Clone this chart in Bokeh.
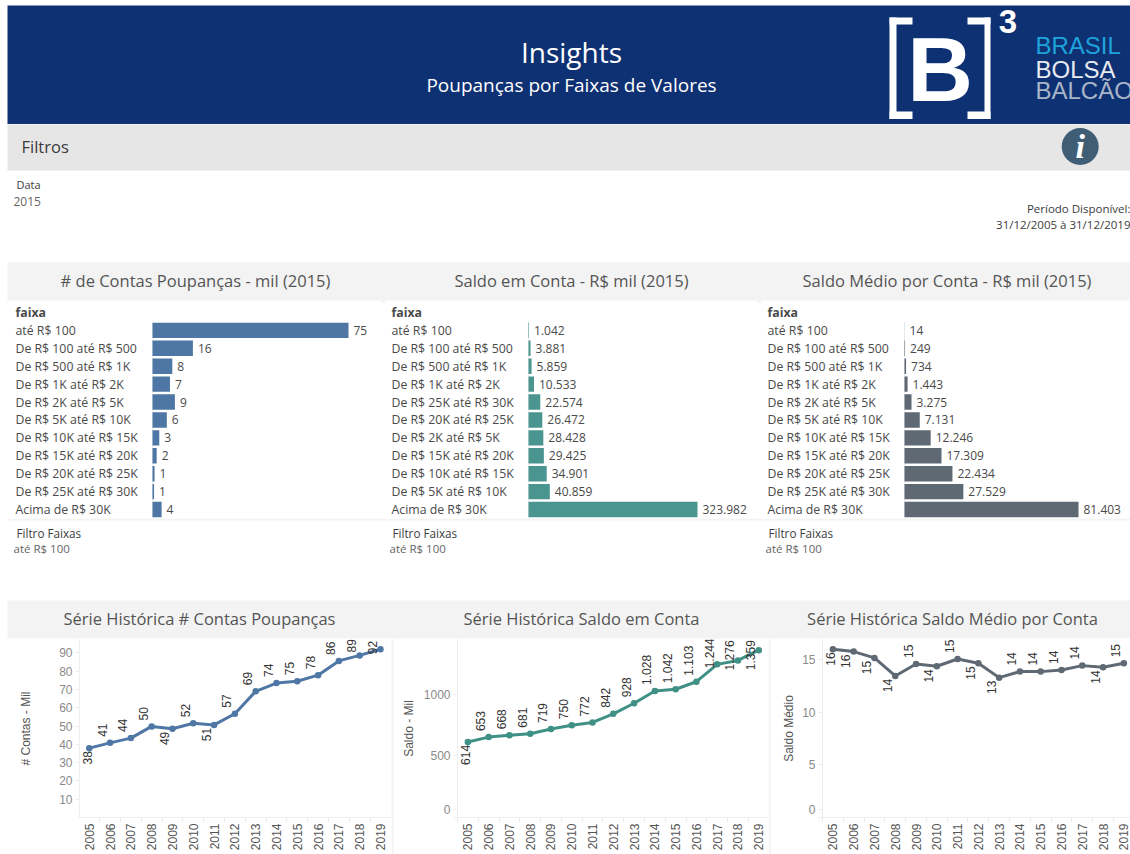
from math import pi
from bokeh.embed import file_html
from bokeh.resources import INLINE
from bokeh.plotting import figure
from bokeh.layouts import column, row
from bokeh.core.properties import value
from bokeh.models import (ColumnDataSource, FactorRange, Range1d, LabelSet, FixedTicker)

# ---------- data ----------
FAIXAS_ORDER_A = ["até R$ 100", "De R$ 100 até R$ 500", "De R$ 500 até R$ 1K", "De R$ 1K até R$ 2K",
                  "De R$ 2K até R$ 5K", "De R$ 5K até R$ 10K", "De R$ 10K até R$ 15K", "De R$ 15K até R$ 20K",
                  "De R$ 20K até R$ 25K", "De R$ 25K até R$ 30K", "Acima de R$ 30K"]
FAIXAS_ORDER_B = ["até R$ 100", "De R$ 100 até R$ 500", "De R$ 500 até R$ 1K", "De R$ 1K até R$ 2K",
                  "De R$ 25K até R$ 30K", "De R$ 20K até R$ 25K", "De R$ 2K até R$ 5K", "De R$ 15K até R$ 20K",
                  "De R$ 10K até R$ 15K", "De R$ 5K até R$ 10K", "Acima de R$ 30K"]
contas_faixa = [75.2, 15.5, 7.6, 6.7, 8.6, 5.5, 2.6, 1.6, 0.8, 0.6, 3.5]
contas_faixa_txt = ["75", "16", "8", "7", "9", "6", "3", "2", "1", "1", "4"]
saldo_faixa = [1.042, 3.881, 5.859, 10.533, 22.574, 26.472, 28.428, 29.425, 34.901, 40.859, 323.982]
saldo_faixa_txt = ["1.042", "3.881", "5.859", "10.533", "22.574", "26.472", "28.428", "29.425", "34.901", "40.859", "323.982"]
medio_faixa = [0.014, 0.249, 0.734, 1.443, 3.275, 7.131, 12.246, 17.309, 22.434, 27.529, 81.403]
medio_faixa_txt = ["14", "249", "734", "1.443", "3.275", "7.131", "12.246", "17.309", "22.434", "27.529", "81.403"]

ANOS = list(range(2005, 2020))
contas_hist = [37.9, 40.8, 43.4, 49.8, 48.5, 51.5, 50.6, 56.7, 69.0, 73.5, 74.5, 77.8, 85.6, 88.6, 92.0]
contas_hist_txt = ["38", "41", "44", "50", "49", "52", "51", "57", "69", "74", "75", "78", "86", "89", "92"]
saldo_hist = [614, 653, 668, 681, 719, 750, 772, 842, 928, 1028, 1042, 1103, 1244, 1276, 1359]
saldo_hist_txt = ["614", "653", "668", "681", "719", "750", "772", "842", "928", "1.028", "1.042", "1.103", "1.244", "1.276", "1.359"]
medio_hist = [15.97, 15.75, 15.15, 13.44, 14.58, 14.36, 15.05, 14.64, 13.28, 13.85, 13.85, 14.0, 14.42, 14.26, 14.64]
medio_hist_txt = ["16", "16", "15", "14", "15", "14", "15", "15", "13", "14", "14", "14", "14", "14", "15"]

# ---------- styles ----------
BLUE, TEAL, SLATE = "#4e77a5", "#4a958f", "#5e6973"
LINE_TEAL = "#3f9085"
NAVY = "#0e3173"
BOOK = "Open Sans"
ARIAL = "Liberation Sans"
TXT = "#4a4a4a"


def chrome(y0, y1):
    p = figure(width=1130, height=y1 - y0, x_range=Range1d(0, 1130), y_range=Range1d(y1, y0),
               output_backend="svg", toolbar_location=None, min_border=0, outline_line_color=None)
    p.axis.visible = False
    p.grid.visible = False
    return p


def strip(width, height, color):
    p = figure(width=width, height=height, x_range=Range1d(0, 1), y_range=Range1d(0, 1),
               output_backend="svg", toolbar_location=None, min_border=0, outline_line_color=None,
               background_fill_color=color, border_fill_color=color)
    p.axis.visible = False
    p.grid.visible = False
    return p


def txt(p, x, y, s, size, color=TXT, font=BOOK, align="left", style="normal"):
    p.text(x=[x], y=[y], text=[s], text_font=value(font), text_font_size=size, text_color=color,
           text_align=align, text_baseline="middle", text_font_style=style)


# ---------- top chrome ----------
top = chrome(0, 303)
top.quad(left=[7], right=[1130], top=[5], bottom=[123.5], fill_color=NAVY, line_color=None)
top.quad(left=[7], right=[1130], top=[124], bottom=[170], fill_color="#e6e6e6", line_color=None)
top.quad(left=[7], right=[1130], top=[262], bottom=[300], fill_color="#f3f3f3", line_color=None)
top.quad(left=[381, 757], right=[385, 761], top=[300, 300], bottom=[303, 303], fill_color="#f3f3f3", line_color=None)
txt(top, 571, 51, "Insights", "28px", "#ffffff", align="center")
txt(top, 571, 84, "Poupanças por Faixas de Valores", "19px", "#ffffff", align="center")
# logo
top.quad(left=[889, 889, 889, 984, 967, 967],
         right=[896, 912, 912, 990, 990, 990],
         top=[17, 17, 111, 17, 17, 111],
         bottom=[118.5, 24, 118.5, 118.5, 24, 118.5], fill_color="#ffffff", line_color=None)
txt(top, 939.5, 68.5, "B", "91px", "#ffffff", ARIAL, "center", "bold")
txt(top, 1007.5, 21, "3", "33px", "#ffffff", ARIAL, "center", "bold")
txt(top, 1035, 45, "BRASIL", "24px", "#1ea3dc", ARIAL)
txt(top, 1035, 68.5, "BOLSA", "24px", "#e8ebf0", ARIAL)
txt(top, 1035, 90, "BALCÃO", "24px", "#a9b5c8", ARIAL)
top.scatter(x=[1079.7], y=[146], size=37, marker="circle", fill_color="#3f5d75", line_color=None)
txt(top, 1079.7, 146, "i", "34px", "#ffffff", "Liberation Serif", "center", "bold italic")
txt(top, 21, 146, "Filtros", "16.5px", "#3c3c3c")
txt(top, 16, 184, "Data", "11px", "#3c3c3c")
txt(top, 13, 201, "2015", "12px", "#666666")
txt(top, 1130, 208, "Período Disponível:", "11.5px", "#3c3c3c", align="right")
txt(top, 1130, 224, "31/12/2005 à 31/12/2019", "11.5px", "#3c3c3c", align="right")
txt(top, 195, 280, "# de Contas Poupanças - mil (2015)", "16.5px", "#555555", align="center")
txt(top, 571, 280, "Saldo em Conta - R$ mil (2015)", "16.5px", "#555555", align="center")
txt(top, 946.5, 280, "Saldo Médio por Conta - R$ mil (2015)", "16.5px", "#555555", align="center")


# ---------- bar panels ----------
def bars(width, cats, vals, labels, color, xstart, xend, lab_x):
    factors = list(reversed(cats)) + ["faixa"]
    p = figure(width=width, height=215, x_range=Range1d(xstart, xend), y_range=FactorRange(factors=factors, range_padding=0),
               output_backend="svg", toolbar_location=None, min_border=0, outline_line_color=None)
    p.axis.visible = False
    p.grid.visible = False
    src = ColumnDataSource(dict(cat=cats, val=vals, lab=labels, lx=[lab_x] * len(cats)))
    # baseline: zero-width bars spanning each row
    p.hbar(y="cat", right=0, left=0, height=1, source=src, line_color="#ececec", line_width=1, fill_color=None)
    p.hbar(y="cat", right="val", left=0, height=0.86, source=src, fill_color=color, line_color=None)
    p.add_layout(LabelSet(x="lx", y="cat", x_units="screen", text="cat", source=src, text_font=value(BOOK),
                          text_font_size="12.3px", text_color=TXT, text_baseline="middle"))
    p.add_layout(LabelSet(x="val", y="cat", text="lab", x_offset=5, source=src, text_font=value(BOOK),
                          text_font_size="12px", text_color=TXT, text_baseline="middle"))
    head = ColumnDataSource(dict(cat=["faixa"], lx=[lab_x]))
    p.add_layout(LabelSet(x="lx", y="cat", x_units="screen", text="cat", source=head, text_font=value(BOOK),
                          text_font_size="12.3px", text_font_style="bold", text_color=TXT, text_baseline="middle"))
    return p


PX1, PX2, PX3 = 196 / 75.2, 169 / 323.982, 174 / 81.403
b1 = bars(384, FAIXAS_ORDER_A, contas_faixa, contas_faixa_txt, BLUE, -152 / PX1, (384 - 152) / PX1, 15)
b2 = bars(376, FAIXAS_ORDER_B, saldo_faixa, saldo_faixa_txt, TEAL, -(528 - 384) / PX2, (760 - 528) / PX2, 7)
b3 = bars(370, FAIXAS_ORDER_A, medio_faixa, medio_faixa_txt, SLATE, -(904 - 760) / PX3, (1130 - 904) / PX3, 7)

# ---------- middle chrome ----------
mid = chrome(518, 639)
mid.quad(left=[7], right=[1130], top=[518], bottom=[520], fill_color="#f3f3f3", line_color=None)
mid.quad(left=[7], right=[1130], top=[600], bottom=[638], fill_color="#f3f3f3", line_color=None)
for x, x2 in ((16, 13), (392, 389), (768, 765)):
    txt(mid, x, 532, "Filtro Faixas", "11.7px", "#3c3c3c")
    txt(mid, x2, 548, "até R$ 100", "11.5px", "#666666")
txt(mid, 199, 618, "Série Histórica # Contas Poupanças", "16.5px", "#555555", align="center")
txt(mid, 581, 618, "Série Histórica Saldo em Conta", "16.5px", "#555555", align="center")
txt(mid, 952, 618, "Série Histórica Saldo Médio por Conta", "16.5px", "#555555", align="center")


# ---------- line panels ----------
def lines(width, left, xr, ymax, vals, labels, color, title, ticks, below, nudges, title_standoff, overrides=None):
    p = figure(width=width, height=215, x_range=Range1d(*xr), y_range=Range1d(0, ymax),
               output_backend="svg", toolbar_location=None, min_border_left=left, min_border_right=0,
               min_border_top=0, min_border_bottom=37, outline_line_color=None)
    p.grid.visible = False
    mids = [a + 0.5 for a in ANOS[:-1]] + [ANOS[0] - 0.5]
    p.xaxis.ticker = FixedTicker(ticks=ANOS, minor_ticks=mids)
    p.xaxis.major_label_orientation = pi / 2
    p.xaxis.major_label_overrides = {a: str(a) for a in ANOS}
    p.xaxis.major_tick_line_color = None
    p.xaxis.major_tick_out = 0
    p.xaxis.minor_tick_in = 0
    p.xaxis.minor_tick_out = 5
    p.xaxis.minor_tick_line_color = "#ececec"
    p.xaxis.major_label_standoff = 1
    p.xaxis.major_label_text_font = ARIAL
    p.xaxis.major_label_text_font_size = "12px"
    p.xaxis.major_label_text_color = "#555555"
    p.xaxis.axis_line_color = "#eeeeee"
    p.yaxis.ticker = FixedTicker(ticks=ticks)
    p.yaxis.minor_tick_line_color = None
    p.yaxis.major_tick_in = 0
    p.yaxis.major_tick_out = 4
    p.yaxis.major_tick_line_color = "#ececec"
    p.yaxis.axis_line_color = "#eeeeee"
    p.yaxis.major_label_text_font = ARIAL
    p.yaxis.major_label_text_font_size = "12px"
    p.yaxis.major_label_text_color = "#8a8a8a"
    p.yaxis.major_label_standoff = 3
    p.yaxis.axis_label = title
    p.yaxis.axis_label_text_font = ARIAL
    p.yaxis.axis_label_text_font_style = "normal"
    p.yaxis.axis_label_text_font_size = "12px"
    p.yaxis.axis_label_text_color = "#555555"
    p.yaxis.axis_label_standoff = title_standoff
    if overrides:
        p.yaxis.major_label_overrides = overrides
    p.line(ANOS, vals, line_color=color, line_width=3)
    p.scatter(ANOS, vals, size=6.5, marker="circle", fill_color=color, line_color=None)
    for group, align, dy in ((True, "right", 3), (False, "left", -6)):
        idx = [i for i in range(len(ANOS)) if (i in below) == group]
        src = ColumnDataSource(dict(
            x=[ANOS[i] for i in idx], y=[vals[i] for i in idx], t=[labels[i] for i in idx],
            xo=[-2 if i == 0 else -8 for i in idx], yo=[nudges.get(i, dy) for i in idx]))
        p.text(x="x", y="y", text="t", source=src, angle=pi / 2, x_offset="xo", y_offset="yo",
               text_font=value(ARIAL), text_font_size="12px", text_color="#333333",
               text_align=align, text_baseline="middle")
    return p


# The source lifts its lowest "0" label about 8px above the axis so it stays inside its pane;
# the tick labelled "0" sits at that lifted position and the true zero tick carries no label.
l1 = lines(391, 79, (2004.53, 2019.53), 97.3, contas_hist, contas_hist_txt, BLUE, "# Contas - Mil",
           [10, 20, 30, 40, 50, 60, 70, 80, 90], {0, 4, 6}, {14: 5, 13: -3}, 23)
l2 = lines(374, 63, (2004.5, 2019.47), 1446, saldo_hist, saldo_hist_txt, LINE_TEAL, "Saldo - Mil",
           [0, 65, 500, 1000], {0}, {12: 4, 13: 10, 14: 20}, 5, overrides={0: "", 65: "0"})
l3 = lines(359, 51, (2004.5, 2019.32), 16.9, medio_hist, medio_hist_txt, SLATE, "Saldo Médio",
           [0, 0.76, 5, 10, 15], {0, 1, 2, 3, 5, 7, 8, 13}, {}, 3, overrides={0: "", 0.76: "0"})

bottom_row = row(l1, strip(3, 215, "#f5f5f5"), l2, strip(3, 215, "#f5f5f5"), l3, spacing=0)
layout = column(top, row(b1, b2, b3, spacing=0), mid, bottom_row, spacing=0)
open("out.html", "w").write(file_html(layout, INLINE))
